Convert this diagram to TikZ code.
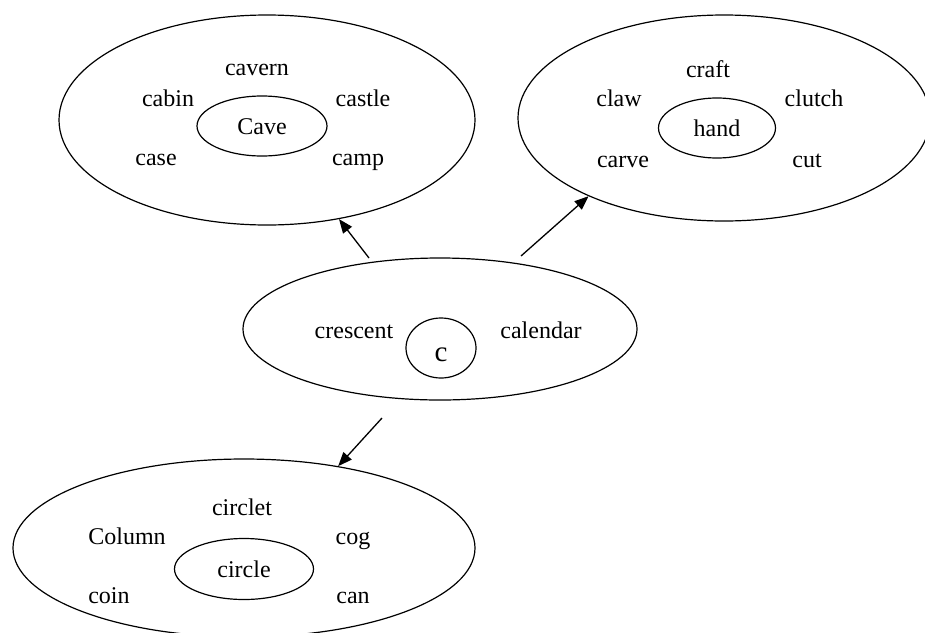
\documentclass[tikz,border=0pt]{standalone}
\usepackage{fontspec}
\setmainfont{Liberation Serif}
\usetikzlibrary{shapes.geometric,arrows.meta}
\tikzset{
  outerell/.style={draw, ellipse, line width=1.2pt, inner sep=0pt},
  innerell/.style={draw, ellipse, line width=1.2pt, inner sep=0pt,
    font=\fontsize{24}{28}\selectfont, text height=16pt, text depth=0pt},
  word/.style={inner sep=0pt, font=\fontsize{24}{28}\selectfont,
    text height=11pt, text depth=0pt},
  conn/.style={line width=1.3pt, -{Triangle[length=14pt,width=11pt]}}
}
\begin{document}
\begin{tikzpicture}[x=1pt,y=-1pt]
\clip (0,0) rectangle (925,632);
\fill[white] (0,0) rectangle (925,632);
% outer ellipses
\node[outerell, minimum width=416pt, minimum height=210pt] (caveO) at (267,120) {};
\node[outerell, minimum width=412pt, minimum height=206pt] (handO) at (724,118) {};
\node[outerell, minimum width=394pt, minimum height=142pt] (cO) at (440,329) {};
\node[outerell, minimum width=462pt, minimum height=178pt] (circleO) at (244,548) {};
% inner ellipses
\node[innerell, minimum width=130pt, minimum height=60pt] (cave) at (262,126) {Cave};
\node[innerell, minimum width=117pt, minimum height=60pt] (hand) at (717,128) {hand};
\node[innerell, minimum width=70pt, minimum height=60pt,
      font=\fontsize{29}{32}\selectfont, text height=27pt] (c) at (441,348) {c};
\node[innerell, minimum width=139pt, minimum height=61pt] (circ) at (244,569) {circle};
% words: Cave
\node[word] (cavern) at (257,70) {cavern};
\node[word] (cabin) at (168,101) {cabin};
\node[word] (castle) at (363,101) {castle};
\node[word] (case) at (156,160) {case};
\node[word] (camp) at (358,160) {camp};
% words: hand
\node[word] (craft) at (708,71.5) {craft};
\node[word] (claw) at (619,100.5) {claw};
\node[word] (clutch) at (814,100.5) {clutch};
\node[word] (carve) at (623,161.5) {carve};
\node[word] (cut) at (807,161.5) {cut};
% words: c
\node[word] (crescent) at (354,332.5) {crescent};
\node[word] (calendar) at (541,332.5) {calendar};
% words: circle
\node[word] (circlet) at (242,509.5) {circlet};
\node[word] (column) at (127,538.5) {Column};
\node[word] (cog) at (353,538.5) {cog};
\node[word] (coin) at (109,597.5) {coin};
\node[word] (can) at (353,597.5) {can};
% connectors
\coordinate (s1) at (369,258);
\coordinate (s2) at (521,256);
\coordinate (s3) at (382,418);
\draw[conn] (s1) -- (caveO.-54);
\draw[conn] (s2) -- (handO.-150);
\draw[conn] (s3) -- (circleO.41.8);
\end{tikzpicture}
\end{document}
